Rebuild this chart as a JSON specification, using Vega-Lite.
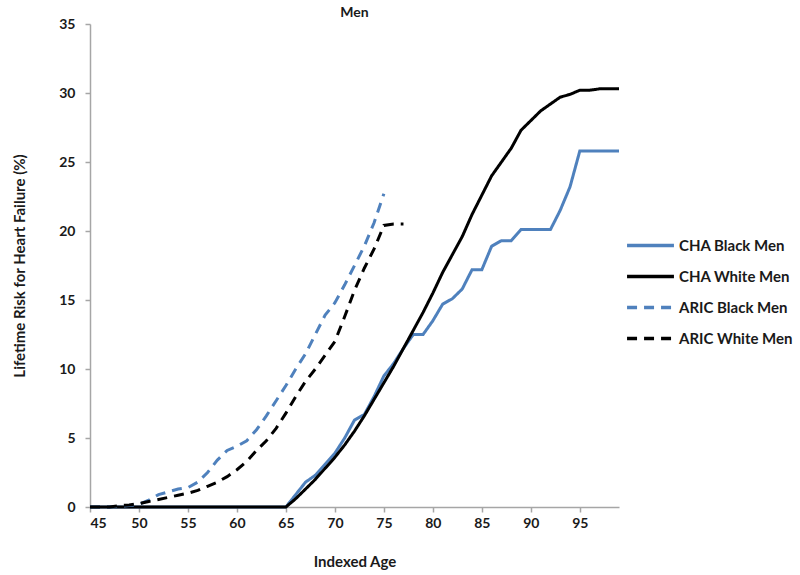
{
  "$schema": "https://vega.github.io/schema/vega-lite/v6.json",
  "autosize": {"type": "none"},
  "width": 529,
  "height": 483,
  "padding": {"left": 90, "top": 24, "right": 181, "bottom": 68},
  "background": "white",
  "title": {"text": "Men", "anchor": "middle", "font": "Lato", "fontSize": 14, "fontWeight": "bold", "color": "#1a1a1a", "offset": -3},
  "config": {"view": {"stroke": null}, "font": "Lato"},
  "data": {"values": [
    {"s": "CHA Black Men", "age": 45, "v": 0}, {"s": "CHA Black Men", "age": 50, "v": 0}, {"s": "CHA Black Men", "age": 55, "v": 0}, {"s": "CHA Black Men", "age": 60, "v": 0}, {"s": "CHA Black Men", "age": 65, "v": 0},
    {"s": "CHA Black Men", "age": 66, "v": 0.9}, {"s": "CHA Black Men", "age": 67, "v": 1.8}, {"s": "CHA Black Men", "age": 68, "v": 2.3}, {"s": "CHA Black Men", "age": 69, "v": 3.1}, {"s": "CHA Black Men", "age": 70, "v": 3.9},
    {"s": "CHA Black Men", "age": 71, "v": 5.0}, {"s": "CHA Black Men", "age": 72, "v": 6.3}, {"s": "CHA Black Men", "age": 73, "v": 6.7}, {"s": "CHA Black Men", "age": 74, "v": 8.0}, {"s": "CHA Black Men", "age": 75, "v": 9.5},
    {"s": "CHA Black Men", "age": 76, "v": 10.4}, {"s": "CHA Black Men", "age": 77, "v": 11.5}, {"s": "CHA Black Men", "age": 78, "v": 12.5}, {"s": "CHA Black Men", "age": 79, "v": 12.5}, {"s": "CHA Black Men", "age": 80, "v": 13.5},
    {"s": "CHA Black Men", "age": 81, "v": 14.7}, {"s": "CHA Black Men", "age": 82, "v": 15.1}, {"s": "CHA Black Men", "age": 83, "v": 15.8}, {"s": "CHA Black Men", "age": 84, "v": 17.2}, {"s": "CHA Black Men", "age": 85, "v": 17.2},
    {"s": "CHA Black Men", "age": 86, "v": 18.9}, {"s": "CHA Black Men", "age": 87, "v": 19.3}, {"s": "CHA Black Men", "age": 88, "v": 19.3}, {"s": "CHA Black Men", "age": 89, "v": 20.1}, {"s": "CHA Black Men", "age": 90, "v": 20.1},
    {"s": "CHA Black Men", "age": 91, "v": 20.1}, {"s": "CHA Black Men", "age": 92, "v": 20.1}, {"s": "CHA Black Men", "age": 93, "v": 21.5}, {"s": "CHA Black Men", "age": 94, "v": 23.2}, {"s": "CHA Black Men", "age": 95, "v": 25.8},
    {"s": "CHA Black Men", "age": 96, "v": 25.8}, {"s": "CHA Black Men", "age": 97, "v": 25.8}, {"s": "CHA Black Men", "age": 98, "v": 25.8}, {"s": "CHA Black Men", "age": 99, "v": 25.8},

    {"s": "CHA White Men", "age": 45, "v": 0}, {"s": "CHA White Men", "age": 50, "v": 0}, {"s": "CHA White Men", "age": 55, "v": 0}, {"s": "CHA White Men", "age": 60, "v": 0}, {"s": "CHA White Men", "age": 65, "v": 0},
    {"s": "CHA White Men", "age": 66, "v": 0.6}, {"s": "CHA White Men", "age": 67, "v": 1.3}, {"s": "CHA White Men", "age": 68, "v": 2.0}, {"s": "CHA White Men", "age": 69, "v": 2.8}, {"s": "CHA White Men", "age": 70, "v": 3.6},
    {"s": "CHA White Men", "age": 71, "v": 4.5}, {"s": "CHA White Men", "age": 72, "v": 5.5}, {"s": "CHA White Men", "age": 73, "v": 6.6}, {"s": "CHA White Men", "age": 74, "v": 7.8}, {"s": "CHA White Men", "age": 75, "v": 9.0},
    {"s": "CHA White Men", "age": 76, "v": 10.2}, {"s": "CHA White Men", "age": 77, "v": 11.5}, {"s": "CHA White Men", "age": 78, "v": 12.8}, {"s": "CHA White Men", "age": 79, "v": 14.1}, {"s": "CHA White Men", "age": 80, "v": 15.5},
    {"s": "CHA White Men", "age": 81, "v": 17.0}, {"s": "CHA White Men", "age": 82, "v": 18.3}, {"s": "CHA White Men", "age": 83, "v": 19.6}, {"s": "CHA White Men", "age": 84, "v": 21.2}, {"s": "CHA White Men", "age": 85, "v": 22.6},
    {"s": "CHA White Men", "age": 86, "v": 24.0}, {"s": "CHA White Men", "age": 87, "v": 25.0}, {"s": "CHA White Men", "age": 88, "v": 26.0}, {"s": "CHA White Men", "age": 89, "v": 27.3}, {"s": "CHA White Men", "age": 90, "v": 28.0},
    {"s": "CHA White Men", "age": 91, "v": 28.7}, {"s": "CHA White Men", "age": 92, "v": 29.2}, {"s": "CHA White Men", "age": 93, "v": 29.7}, {"s": "CHA White Men", "age": 94, "v": 29.9}, {"s": "CHA White Men", "age": 95, "v": 30.2},
    {"s": "CHA White Men", "age": 96, "v": 30.2}, {"s": "CHA White Men", "age": 97, "v": 30.3}, {"s": "CHA White Men", "age": 98, "v": 30.3}, {"s": "CHA White Men", "age": 99, "v": 30.3},

    {"s": "ARIC Black Men", "age": 45, "v": 0}, {"s": "ARIC Black Men", "age": 46, "v": 0}, {"s": "ARIC Black Men", "age": 47, "v": 0}, {"s": "ARIC Black Men", "age": 48, "v": 0.05}, {"s": "ARIC Black Men", "age": 49, "v": 0.1},
    {"s": "ARIC Black Men", "age": 50, "v": 0.2}, {"s": "ARIC Black Men", "age": 51, "v": 0.5}, {"s": "ARIC Black Men", "age": 52, "v": 0.9}, {"s": "ARIC Black Men", "age": 53, "v": 1.1}, {"s": "ARIC Black Men", "age": 54, "v": 1.3},
    {"s": "ARIC Black Men", "age": 55, "v": 1.4}, {"s": "ARIC Black Men", "age": 56, "v": 1.8}, {"s": "ARIC Black Men", "age": 57, "v": 2.5}, {"s": "ARIC Black Men", "age": 58, "v": 3.4}, {"s": "ARIC Black Men", "age": 59, "v": 4.1},
    {"s": "ARIC Black Men", "age": 60, "v": 4.4}, {"s": "ARIC Black Men", "age": 61, "v": 4.8}, {"s": "ARIC Black Men", "age": 62, "v": 5.6}, {"s": "ARIC Black Men", "age": 63, "v": 6.6}, {"s": "ARIC Black Men", "age": 64, "v": 7.7},
    {"s": "ARIC Black Men", "age": 65, "v": 8.8}, {"s": "ARIC Black Men", "age": 66, "v": 10.0}, {"s": "ARIC Black Men", "age": 67, "v": 11.1}, {"s": "ARIC Black Men", "age": 68, "v": 12.5}, {"s": "ARIC Black Men", "age": 69, "v": 13.9},
    {"s": "ARIC Black Men", "age": 70, "v": 14.8}, {"s": "ARIC Black Men", "age": 71, "v": 16.1}, {"s": "ARIC Black Men", "age": 72, "v": 17.5}, {"s": "ARIC Black Men", "age": 73, "v": 18.9}, {"s": "ARIC Black Men", "age": 74, "v": 20.6},
    {"s": "ARIC Black Men", "age": 75, "v": 22.7},

    {"s": "ARIC White Men", "age": 45, "v": 0}, {"s": "ARIC White Men", "age": 46, "v": 0}, {"s": "ARIC White Men", "age": 47, "v": 0}, {"s": "ARIC White Men", "age": 48, "v": 0.1}, {"s": "ARIC White Men", "age": 49, "v": 0.15},
    {"s": "ARIC White Men", "age": 50, "v": 0.25}, {"s": "ARIC White Men", "age": 51, "v": 0.4}, {"s": "ARIC White Men", "age": 52, "v": 0.55}, {"s": "ARIC White Men", "age": 53, "v": 0.7}, {"s": "ARIC White Men", "age": 54, "v": 0.85},
    {"s": "ARIC White Men", "age": 55, "v": 1.0}, {"s": "ARIC White Men", "age": 56, "v": 1.2}, {"s": "ARIC White Men", "age": 57, "v": 1.5}, {"s": "ARIC White Men", "age": 58, "v": 1.8}, {"s": "ARIC White Men", "age": 59, "v": 2.2},
    {"s": "ARIC White Men", "age": 60, "v": 2.7}, {"s": "ARIC White Men", "age": 61, "v": 3.3}, {"s": "ARIC White Men", "age": 62, "v": 4.1}, {"s": "ARIC White Men", "age": 63, "v": 4.8}, {"s": "ARIC White Men", "age": 64, "v": 5.7},
    {"s": "ARIC White Men", "age": 65, "v": 6.8}, {"s": "ARIC White Men", "age": 66, "v": 8.0}, {"s": "ARIC White Men", "age": 67, "v": 9.1}, {"s": "ARIC White Men", "age": 68, "v": 10.0}, {"s": "ARIC White Men", "age": 69, "v": 11.0},
    {"s": "ARIC White Men", "age": 70, "v": 12.0}, {"s": "ARIC White Men", "age": 71, "v": 13.8}, {"s": "ARIC White Men", "age": 72, "v": 15.7}, {"s": "ARIC White Men", "age": 73, "v": 17.3}, {"s": "ARIC White Men", "age": 74, "v": 18.7},
    {"s": "ARIC White Men", "age": 75, "v": 20.4}, {"s": "ARIC White Men", "age": 76, "v": 20.5}, {"s": "ARIC White Men", "age": 77, "v": 20.5}
  ]},
  "mark": {"type": "line", "strokeWidth": 3, "interpolate": "linear"},
  "encoding": {
    "x": {
      "field": "age", "type": "quantitative",
      "scale": {"domain": [45, 99], "nice": false, "zero": false},
      "axis": {
        "title": "Indexed Age", "values": [45, 50, 55, 60, 65, 70, 75, 80, 85, 90, 95],
        "grid": false, "domainColor": "#a6a6a6", "domainWidth": 1.5, "tickColor": "#a6a6a6", "tickWidth": 1.5, "tickSize": 5,
        "labelFont": "Lato", "labelFontSize": 14, "labelFontWeight": "bold", "labelColor": "#1a1a1a", "labelPadding": 4,
        "titleFont": "Lato", "titleFontSize": 15, "titleFontWeight": "bold", "titleColor": "#1a1a1a", "titlePadding": 24
      }
    },
    "y": {
      "field": "v", "type": "quantitative",
      "scale": {"domain": [0, 35], "nice": false},
      "axis": {
        "title": "Lifetime Risk for Heart Failure (%)", "values": [0, 5, 10, 15, 20, 25, 30, 35],
        "grid": false, "domainColor": "#a6a6a6", "domainWidth": 1.5, "tickColor": "#a6a6a6", "tickWidth": 1.5, "tickSize": 5,
        "labelFont": "Lato", "labelFontSize": 14, "labelFontWeight": "bold", "labelColor": "#1a1a1a", "labelPadding": 10,
        "titleFont": "Lato", "titleFontSize": 15, "titleFontWeight": "bold", "titleColor": "#1a1a1a", "titlePadding": 31
      }
    },
    "color": {
      "field": "s", "type": "nominal",
      "scale": {"domain": ["CHA Black Men", "CHA White Men", "ARIC Black Men", "ARIC White Men"], "range": ["#4f81bd", "#000000", "#4f81bd", "#000000"]},
      "legend": {
        "title": null, "orient": "none", "legendX": 535, "legendY": 206,
        "symbolType": "stroke", "symbolSize": 2200, "symbolStrokeWidth": 3.5,
        "labelFont": "Lato", "labelFontSize": 15, "labelFontWeight": "bold", "labelColor": "#1a1a1a",
        "clipHeight": 31, "rowPadding": 0, "labelOffset": 3
      }
    },
    "strokeDash": {
      "field": "s", "type": "nominal",
      "scale": {"domain": ["CHA Black Men", "CHA White Men", "ARIC Black Men", "ARIC White Men"], "range": [[1, 0], [1, 0], [10, 7], [10, 7]]},
      "legend": null
    }
  }
}
